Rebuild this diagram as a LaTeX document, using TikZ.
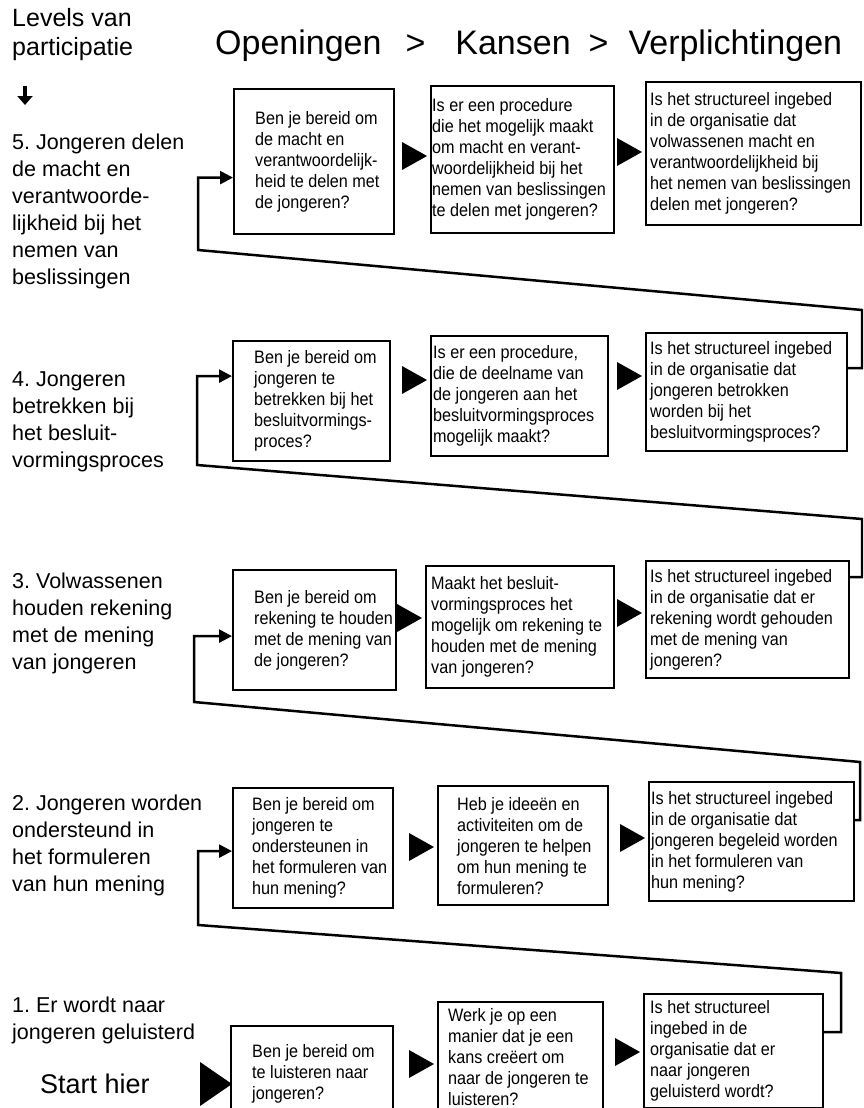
\documentclass[tikz,border=0pt]{standalone}
\usepackage{fontspec}
\setmainfont{Liberation Sans}
\newfontfamily\vraagfont[FakeStretch=0.9]{Liberation Sans}
\usetikzlibrary{arrows.meta}
\frenchspacing

\begin{document}
\begin{tikzpicture}[x=1pt, y=-1pt, >={Triangle[length=13pt,width=13pt]},
  box/.style={draw, line width=2.2pt, anchor=north west, inner sep=0pt},
  vraag/.style={anchor=west, align=left, inner sep=0pt, font=\vraagfont\fontsize{18}{21}\selectfont},
  level/.style={anchor=west, align=left, inner sep=0pt, font=\fontsize{21.5}{27}\selectfont},
  feedback/.style={->, line width=2.5pt}]
  \useasboundingbox (0,0) rectangle (863,1108);
  \clip (0,0) rectangle (863,1108);

  % kop
  \node[level, font=\fontsize{25}{29}\selectfont] (levels) at (12,35) {Levels van\\participatie};
  \draw[-{Triangle[length=9pt,width=15pt]}, line width=4.5pt] (25,86) -- (25,105);
  \node[anchor=base west, inner sep=0pt, font=\fontsize{34}{40}\selectfont] (kop) at (215,55)
    {Openingen\hspace{24pt}>\hspace{30pt}Kansen\hspace{18pt}>\hspace{20pt}Verplichtingen};

  % niveaus
  \node[level] (niv5) at (12,211) {5. Jongeren delen\\de macht en\\verantwoorde-\\lijkheid bij het\\nemen van\\beslissingen};
  \node[level] (niv4) at (12,422) {4. Jongeren\\betrekken bij\\het besluit-\\vormingsproces};
  \node[level] (niv3) at (12,623) {3. Volwassenen\\houden rekening\\met de mening\\van jongeren};
  \node[level] (niv2) at (12,845) {2. Jongeren worden\\ondersteund in\\het formuleren\\van hun mening};
  \node[level] (niv1) at (12,1020) {1. Er wordt naar\\jongeren geluisterd};
  \node[anchor=west, inner sep=0pt, font=\fontsize{27}{32}\selectfont] (start) at (40,1084) {Start hier};

  % niveau 5
  \node[box, minimum width=160, minimum height=145] (A5) at (233,88) {};
  \node[vraag] (A5t) at ([xshift=22pt]A5.west) {Ben je bereid om\\de macht en\\verantwoordelijk-\\heid te delen met\\de jongeren?};
  \node[box, minimum width=183, minimum height=147] (B5) at (430,85) {};
  \node[vraag] (B5t) at ([xshift=2pt]B5.west) {Is er een procedure\\die het mogelijk maakt\\om macht en verant-\\woordelijkheid bij het\\nemen van beslissingen\\te delen met jongeren?};
  \node[box, minimum width=215, minimum height=143] (C5) at (645,81) {};
  \node[vraag] (C5t) at ([xshift=5pt]C5.west) {Is het structureel ingebed\\in de organisatie dat\\volwassenen macht en\\verantwoordelijkheid bij\\het nemen van beslissingen\\delen met jongeren?};

  % niveau 4
  \node[box, minimum width=157, minimum height=120] (A4) at (232,340) {};
  \node[vraag] (A4t) at ([xshift=22pt]A4.west) {Ben je bereid om\\jongeren te\\betrekken bij het\\besluitvormings-\\proces?};
  \node[box, minimum width=177, minimum height=120] (B4) at (430,335) {};
  \node[vraag] (B4t) at ([xshift=3pt]B4.west) {Is er een procedure,\\die de deelname van\\de jongeren aan het\\besluitvormingsproces\\mogelijk maakt?};
  \node[box, minimum width=201, minimum height=118] (C4) at (645,332) {};
  \node[vraag] (C4t) at ([xshift=5pt]C4.west) {Is het structureel ingebed\\in de organisatie dat\\jongeren betrokken\\worden bij het\\besluitvormingsproces?};

  % niveau 3
  \node[box, minimum width=163, minimum height=120] (A3) at (232,569) {};
  \node[vraag] (A3t) at ([xshift=22pt]A3.west) {Ben je bereid om\\rekening te houden\\met de mening van\\de jongeren?};
  \node[box, minimum width=188, minimum height=122] (B3) at (425,565) {};
  \node[vraag] (B3t) at ([xshift=6pt]B3.west) {Maakt het besluit-\\vormingsproces het\\mogelijk om rekening te\\houden met de mening\\van jongeren?};
  \node[box, minimum width=203, minimum height=117] (C3) at (645,560) {};
  \node[vraag] (C3t) at ([xshift=5pt]C3.west) {Is het structureel ingebed\\in de organisatie dat er\\rekening wordt gehouden\\met de mening van\\jongeren?};

  % niveau 2
  \node[box, minimum width=160, minimum height=120] (A2) at (232,787) {};
  \node[vraag] (A2t) at ([xshift=20pt]A2.west) {Ben je bereid om\\jongeren te\\ondersteunen in\\het formuleren van\\hun mening?};
  \node[box, minimum width=170, minimum height=119] (B2) at (437,785) {};
  \node[vraag] (B2t) at ([xshift=20pt]B2.west) {Heb je ideeën en\\activiteiten om de\\jongeren te helpen\\om hun mening te\\formuleren?};
  \node[box, minimum width=205, minimum height=119] (C2) at (648,781) {};
  \node[vraag] (C2t) at ([xshift=3pt]C2.west) {Is het structureel ingebed\\in de organisatie dat\\jongeren begeleid worden\\in het formuleren van\\hun mening?};

  % niveau 1
  \node[box, minimum width=162, minimum height=95] (A1) at (230,1025) {};
  \node[vraag] (A1t) at ([xshift=22pt]A1.west) {Ben je bereid om\\te luisteren naar\\jongeren?};
  \node[box, minimum width=165, minimum height=110] (B1) at (437,1001) {};
  \node[vraag] (B1t) at ([xshift=11pt]B1.west) {Werk je op een\\manier dat je een\\kans creëert om\\naar de jongeren te\\luisteren?};
  \node[box, minimum width=179, minimum height=114] (C1) at (643,993) {};
  \node[vraag] (C1t) at ([xshift=7pt]C1.west) {Is het structureel\\ingebed in de\\organisatie dat er\\naar jongeren\\geluisterd wordt?};

  % pijlen tussen de vragen
  \foreach \n/\y in {B5/156, C5/152, B4/380, C4/376, B3/618, C3/613, B2/847, C2/838, B1/1064, C1/1052}
    \fill (\n.west |- 0,\y) ++(-3,0) -- ++(-25,-14) -- ++(0,28) -- cycle;
  \fill (200,1062) -- (232,1084) -- (200,1106) -- cycle;

  % terug naar het volgende niveau
  \draw[feedback] ([yshift=-39pt]C1.north east) -- ++(17,0) -- ++(0,-59) -- (198,925) |- ([yshift=-3pt]A2.west);
  \draw[feedback] ([yshift=-39pt]C2.north east) -- ++(5,0) -- ++(0,-58) -- (194,702) |- ([yshift=-6pt]A3.west);
  \draw[feedback] ([yshift=-17pt]C3.north east) -- ++(12,0) -- ++(0,-58) -- (197,465) |- ([yshift=25pt]A4.west);
  \draw[feedback] ([yshift=-36pt]C4.north east) -- ++(14,0) -- ++(0,-58) -- (198,250) |- ([yshift=-16pt]A5.west);
\end{tikzpicture}
\end{document}
